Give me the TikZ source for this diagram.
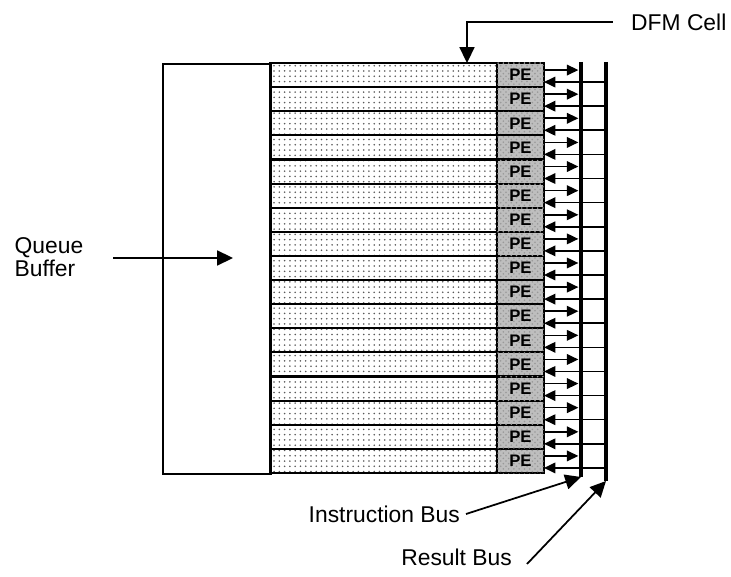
\documentclass[tikz,border=0pt]{standalone}
\usepackage{fontspec}
\setmainfont{Liberation Sans}
\usetikzlibrary{positioning,arrows.meta,patterns}
\definecolor{peshade}{RGB}{190,190,190}

\begin{document}
\begin{tikzpicture}[x=0.02cm,y=-0.02cm,
    datacell/.style={draw,line width=1.2pt,minimum width=4.54cm,minimum height=0.4824cm,
      inner sep=0pt,outer sep=0pt,pattern=dots,pattern color=black!65},
    pecell/.style={draw,line width=1.2pt,minimum width=0.94cm,minimum height=0.4824cm,
      inner sep=0pt,outer sep=0pt,fill=peshade,
      postaction={pattern=crosshatch dots,pattern color=black!40},
      font=\fontsize{9.5}{9.5}\selectfont\bfseries},
    busline/.style={line width=2.4pt},
    link/.style={-{Triangle[length=6.5pt,width=6pt]},line width=0.9pt},
    pointer/.style={-{Triangle[length=9pt,width=8.5pt]},line width=1pt},
    lbl/.style={font=\fontsize{13}{13}\selectfont}]
  \useasboundingbox (0,0) rectangle (731,577);
  \fill[white] (0,0) rectangle (731,577);

  % queue buffer block and the DFM cells
  \node[draw,line width=1.2pt,minimum width=2.16cm,minimum height=8.2cm,
        inner sep=0pt,anchor=north west] (queue) at (162,63) {};
  \foreach \i in {1,...,17}{
    \node[datacell,anchor=north west] (data\i) at (270,{63+(\i-1)*24.118}) {};
    \node[pecell,anchor=west] (pe\i) at (data\i.east) {PE};
  }

  % the two buses
  \coordinate (ibtop) at (581,62);
  \coordinate (ibbot) at (581,477);
  \coordinate (rbtop) at (606,62);
  \coordinate (rbbot) at (606,481);
  \draw[busline] (ibtop) -- (ibbot);
  \draw[busline] (rbtop) -- (rbbot);

  \foreach \i in {1,...,17}{
    \coordinate (in\i) at ([yshift=0.1cm]pe\i.east);
    \coordinate (out\i) at ([yshift=-0.14cm]pe\i.east);
    \draw[link,shorten >=1.5pt] (in\i) -- (in\i -| ibtop);
    \draw[link] (out\i -| rbtop) -- (out\i);
  }

  % labels
  \node[lbl,anchor=west] (dfm) at (625,22) {DFM Cell};
  \coordinate (dfmbend) at (467,23);
  \draw[pointer] ([xshift=-0.25cm]dfm.west) -| (dfmbend |- data1.north);

  \node[lbl,align=left] (qlabel) at (49,257) {Queue\\Buffer};
  \coordinate (qtail) at (113,258);
  \coordinate (qtip) at (233,258);
  \draw[pointer] (qtail) -- (qtip);

  \node[lbl,anchor=east] (iblabel) at (466,514) {Instruction Bus};
  \draw[pointer] (iblabel.east) -- (ibbot);

  \node[lbl,anchor=east] (rblabel) at (518,557) {Result Bus};
  \draw[pointer] ([xshift=0.18cm,yshift=-0.14cm]rblabel.east) -- (rbbot);
\end{tikzpicture}
\end{document}
